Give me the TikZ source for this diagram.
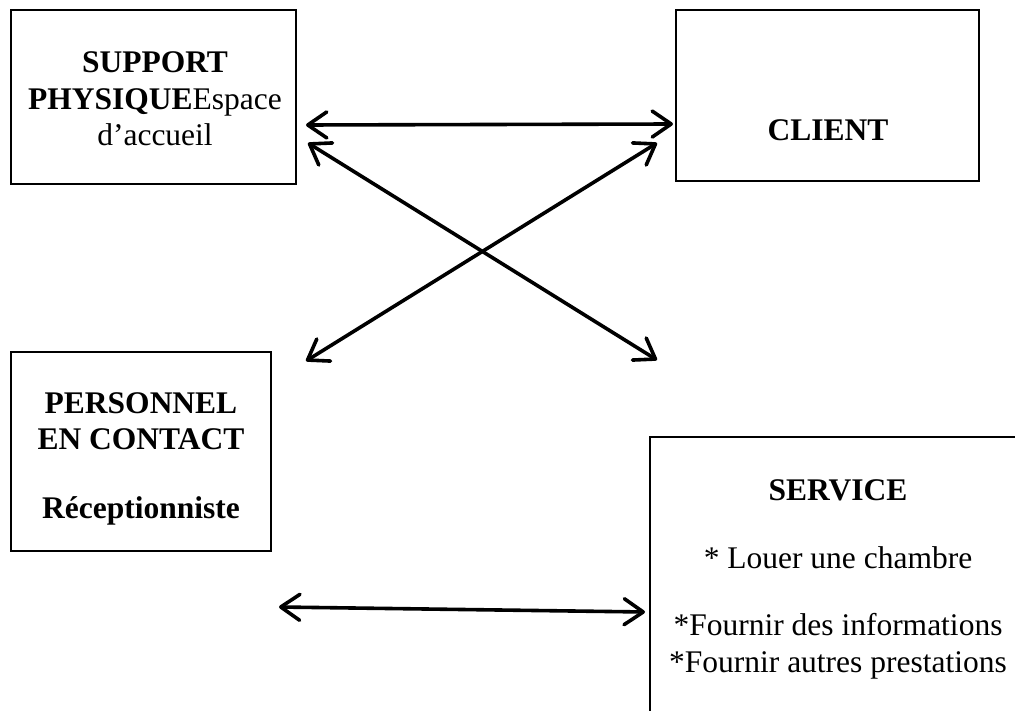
\documentclass[tikz,border=0pt]{standalone}
\usepackage{fontspec}
\setmainfont{Liberation Serif}
\usetikzlibrary{arrows.meta}

\tikzset{
  box/.style={draw, line width=2pt, inner sep=0pt},
  lbl/.style={align=center, inner sep=0pt, font=\fontsize{31.5}{36.5}\selectfont},
  both/.style={line width=3.6pt, {Straight Barb[length=19pt, width=26pt, round]}-{Straight Barb[length=19pt, width=26pt, round]}}
}

\begin{document}
\begin{tikzpicture}[x=1pt,y=1pt,yscale=-1,xscale=1]
        \clip (0,0) rectangle (1015,711);

        \node [box, minimum width=285pt, minimum height=174pt] (support) at (153.5,97) {};
        \node [box, minimum width=303pt, minimum height=171pt] (client) at (827.5,95.5) {};
        \node [box, minimum width=260pt, minimum height=199pt] (personnel) at (141,451.5) {};
        \node [box, minimum width=376pt, minimum height=300pt] (service) at (838,587) {};

        \node [lbl, anchor=base] (supporttxt) at (155,146) {\textbf{SUPPORT}\\\textbf{PHYSIQUE}Espace\\d'accueil};
        \node [lbl, anchor=base] (clienttxt) at (828,141) {\textbf{CLIENT}};
        \node [lbl, anchor=base] (personneltxt) at (141,518) {\textbf{PERSONNEL}\\\textbf{EN CONTACT}\\[32pt]\textbf{Réceptionniste}};
        \node [lbl, anchor=base] (servicetxt) at (838,672) {\textbf{SERVICE}\\[31pt]* Louer une chambre\\[31pt]*Fournir des informations\\*Fournir autres prestations};

        \coordinate (supA) at (306,125);
        \coordinate (cliA) at (673,124);
        \coordinate (supB) at (308,143);
        \coordinate (serB) at (657,360);
        \coordinate (cliB) at (657,143);
        \coordinate (perB) at (306,361);
        \coordinate (perC) at (279,607);
        \coordinate (serC) at (645,612);

        \draw [both] (supA) -- (cliA);
        \draw [both] (supB) -- (serB);
        \draw [both] (cliB) -- (perB);
        \draw [both] (perC) -- (serC);
\end{tikzpicture}
\end{document}
